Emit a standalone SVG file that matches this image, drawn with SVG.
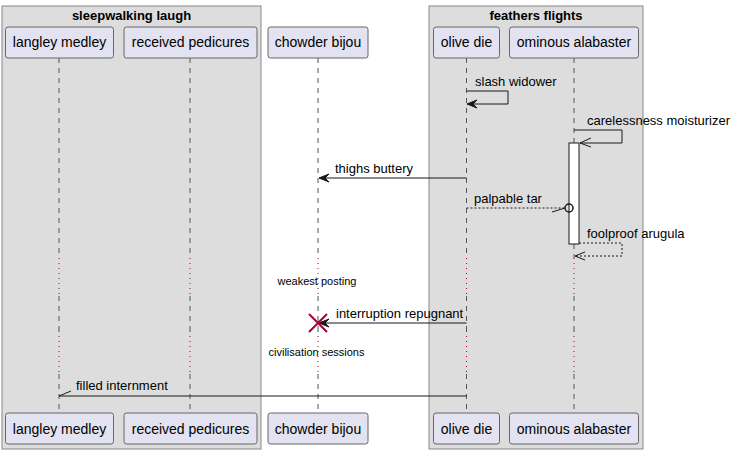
<svg xmlns="http://www.w3.org/2000/svg" width="737" height="454" viewBox="0 0 737 454">
<defs>
<style>
.grp{fill:#DDDDDD;stroke:#888888;stroke-width:1}
.gt{font-family:"Liberation Sans",Arial,sans-serif;font-size:13px;font-weight:bold;fill:#000;text-anchor:middle}
.pb{fill:#E2E2F0;stroke:#666666;stroke-width:1}
.pt{font-family:"Liberation Sans",Arial,sans-serif;font-size:14px;fill:#000;text-anchor:middle}
.ll{stroke:#555555;stroke-width:1;stroke-dasharray:5,5;fill:none}
.dl{stroke:#A80036;stroke-width:1;stroke-dasharray:1,4;fill:none}
.m{stroke:#181818;stroke-width:1;fill:none}
.md{stroke:#181818;stroke-width:1;fill:none;stroke-dasharray:2,2}
.ah{fill:#181818;stroke:#181818;stroke-width:1}
.ml{font-family:"Liberation Sans",Arial,sans-serif;font-size:13px;fill:#000}
.dt{font-family:"Liberation Sans",Arial,sans-serif;font-size:11px;fill:#000;text-anchor:middle}
</style>
</defs>
<rect width="737" height="454" fill="#FFFFFF"/>
<g id="box-sleepwalking-laugh">
<rect class="grp" x="2" y="6" width="259" height="443"/>
<text class="gt" x="131.5" y="20">sleepwalking laugh</text>
</g>
<g id="box-feathers-flights">
<rect class="grp" x="429" y="6" width="214" height="443"/>
<text class="gt" x="536" y="20">feathers flights</text>
</g>
<g id="lifelines">
<path class="ll" d="M59,58V258M59,296V331M59,374V413"/>
<path class="dl" d="M59,258V296M59,331V374"/>
<path class="ll" d="M190,58V258M190,296V331M190,374V413"/>
<path class="dl" d="M190,258V296M190,331V374"/>
<path class="ll" d="M318,58V258M318,296V331M318,374V413"/>
<path class="dl" d="M318,258V296M318,331V374"/>
<path class="ll" d="M466.5,58V258M466.5,296V331M466.5,374V413"/>
<path class="dl" d="M466.5,258V296M466.5,331V374"/>
<path class="ll" d="M574,58V143M574,244V258M574,296V331M574,374V413"/>
<path class="dl" d="M574,258V296M574,331V374"/>
</g>
<g id="activation">
<rect x="569" y="143" width="10" height="101" fill="#FFFFFF" stroke="#181818" stroke-width="1"/>
</g>
<g id="p-langley-medley">
<rect class="pb" x="5.5" y="27" width="108" height="31" rx="2.5"/>
<text class="pt" x="59.5" y="47">langley medley</text>
<rect class="pb" x="5.5" y="413" width="108" height="31" rx="2.5"/>
<text class="pt" x="59.5" y="434">langley medley</text>
</g>
<g id="p-received-pedicures">
<rect class="pb" x="124" y="27" width="133" height="31" rx="2.5"/>
<text class="pt" x="190.5" y="47">received pedicures</text>
<rect class="pb" x="124" y="413" width="133" height="31" rx="2.5"/>
<text class="pt" x="190.5" y="434">received pedicures</text>
</g>
<g id="p-chowder-bijou">
<rect class="pb" x="268" y="27" width="100" height="31" rx="2.5"/>
<text class="pt" x="318" y="47">chowder bijou</text>
<rect class="pb" x="268" y="413" width="100" height="31" rx="2.5"/>
<text class="pt" x="318" y="434">chowder bijou</text>
</g>
<g id="p-olive-die">
<rect class="pb" x="433.5" y="27" width="66" height="31" rx="2.5"/>
<text class="pt" x="466.5" y="47">olive die</text>
<rect class="pb" x="433.5" y="413" width="66" height="31" rx="2.5"/>
<text class="pt" x="466.5" y="434">olive die</text>
</g>
<g id="p-ominous-alabaster">
<rect class="pb" x="509.5" y="27" width="129" height="31" rx="2.5"/>
<text class="pt" x="574" y="47">ominous alabaster</text>
<rect class="pb" x="509.5" y="413" width="129" height="31" rx="2.5"/>
<text class="pt" x="574" y="434">ominous alabaster</text>
</g>
<g id="connectors">
<path class="m" d="M466.5,91H508V104H467"/>
<polygon class="ah" points="467,104 477,100 473,104 477,108"/>
<text class="ml" x="475" y="86">slash widower</text>

<path class="m" d="M574,130H622V143H580"/>
<path class="m" d="M591,138L580,143L591,147"/>
<text class="ml" x="587" y="125">carelessness moisturizer</text>

<path class="m" d="M466.5,178H319"/>
<polygon class="ah" points="319,178 329,174 325,178 329,182"/>
<text class="ml" x="335" y="173">thighs buttery</text>

<path class="md" d="M466.5,208H565"/>
<path class="m" d="M552,212L565,208"/>
<circle cx="569" cy="208" r="4" fill="none" stroke="#181818" stroke-width="1.5"/>
<text class="ml" x="474" y="203">palpable tar</text>

<path class="md" d="M579,243H622V256H575"/>
<path class="m" d="M585,252L575,256L585,260"/>
<text class="ml" x="587" y="238">foolproof arugula</text>

<text class="dt" x="317" y="285">weakest posting</text>

<path class="m" d="M466.5,323H319"/>
<polygon class="ah" points="319,323 329,319 325,323 329,327"/>
<path d="M309,314L327,332M327,314L309,332" stroke="#A80036" stroke-width="2" fill="none"/>
<text class="ml" x="336" y="318">interruption repugnant</text>

<text class="dt" x="316.5" y="356">civilisation sessions</text>

<path class="m" d="M466.5,396H59"/>
<path class="m" d="M59,396L71,391"/>
<text class="ml" x="76" y="390">filled internment</text>
</g>
</svg>
